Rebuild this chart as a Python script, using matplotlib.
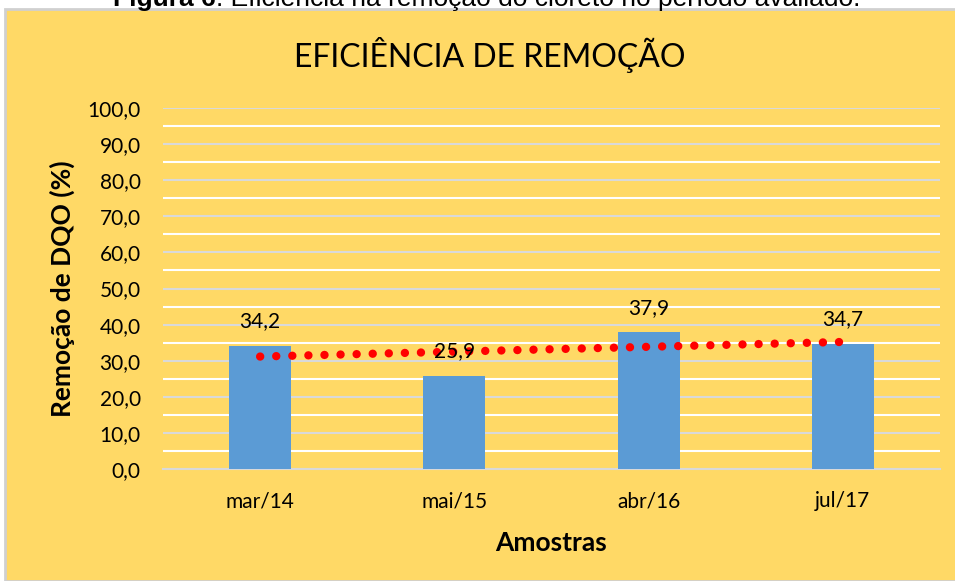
import matplotlib.pyplot as plt
import numpy as np
from matplotlib.patches import Rectangle

amostras = ["mar/14", "mai/15", "abr/16", "jul/17"]
remocao = [34.2, 25.9, 37.9, 34.7]

plt.rcParams['font.family'] = ['Lato', 'DejaVu Sans']

fundo = "#FFD966"
azul = "#5B9BD5"

fig = plt.figure(figsize=(9.55, 5.81), dpi=100)
fig.patch.set_facecolor("white")

# painel amarelo do grafico (com a borda cinza)
fig.patches.append(Rectangle((5 / 955, 0), 1, 1 - 9 / 581, transform=fig.transFigure,
                             facecolor=fundo, edgecolor="#D0D0D0", linewidth=2, zorder=-5))

# legenda da figura, cortada no topo
t1 = fig.text(113 / 955, 1 - 6 / 581, "Figura 6", fontweight="bold", ha="left", va="baseline",
              fontsize=19, family="Liberation Sans")
fig.canvas.draw()
bb = t1.get_window_extent()
fig.text(bb.x1 / 955, 1 - 6 / 581, ": Eficiência na remoção do cloreto no período avaliado.",
         ha="left", va="baseline", fontsize=19, family="Liberation Sans")

fig.text(490 / 955, 1 - 55 / 581, "EFICIÊNCIA DE REMOÇÃO", fontsize=23, ha="center", va="center")

ax = fig.add_axes([163 / 955, 1 - 469 / 581, 777 / 955, 361 / 581])
ax.set_facecolor(fundo)
ax.patch.set_alpha(0)

x = np.arange(len(amostras))
barras = ax.bar(x, remocao, width=0.32, color=azul, zorder=3)

# linha de tendencia linear
coef = np.polyfit(x, remocao, 1)
xt = np.array([x[0], x[-1]])
ax.plot(xt, np.polyval(coef, xt), color="#FF0000", linestyle=(0, (0.01, 1.92)),
        linewidth=6, dash_capstyle="round", zorder=4)

for xi, v in zip(x, remocao):
    ax.text(xi, v + 4.0, f"{v:.1f}".replace(".", ","), ha="center", va="bottom",
            fontsize=15, zorder=5)

ax.set_xlim(-0.5, len(amostras) - 0.5)
ax.set_ylim(0, 100)
ax.set_yticks(np.arange(0, 101, 10))
ax.set_yticklabels([f"{v:.1f}".replace(".", ",") for v in np.arange(0, 101, 10)])
ax.set_yticks(np.arange(5, 100, 10), minor=True)
ax.set_xticks(x)
ax.set_xticklabels(amostras)

ax.grid(axis="y", which="major", color="#D9D9D9", linewidth=1.5, zorder=1)
ax.grid(axis="y", which="minor", color="white", linewidth=1.5, zorder=1)
ax.tick_params(axis="both", which="both", length=0, labelsize=15)
ax.tick_params(axis="y", pad=16)
ax.tick_params(axis="x", pad=16)

for s in ["top", "right", "left"]:
    ax.spines[s].set_visible(False)
ax.spines["bottom"].set_color("#D9D9D9")
ax.spines["bottom"].set_linewidth(1.5)

ax.set_xlabel("Amostras", fontsize=19, fontweight="bold", labelpad=14)
ax.set_ylabel("Remoção de DQO (%)", fontsize=19, fontweight="bold", labelpad=9)

fig.savefig("out.png", dpi=100, facecolor=fig.get_facecolor())
